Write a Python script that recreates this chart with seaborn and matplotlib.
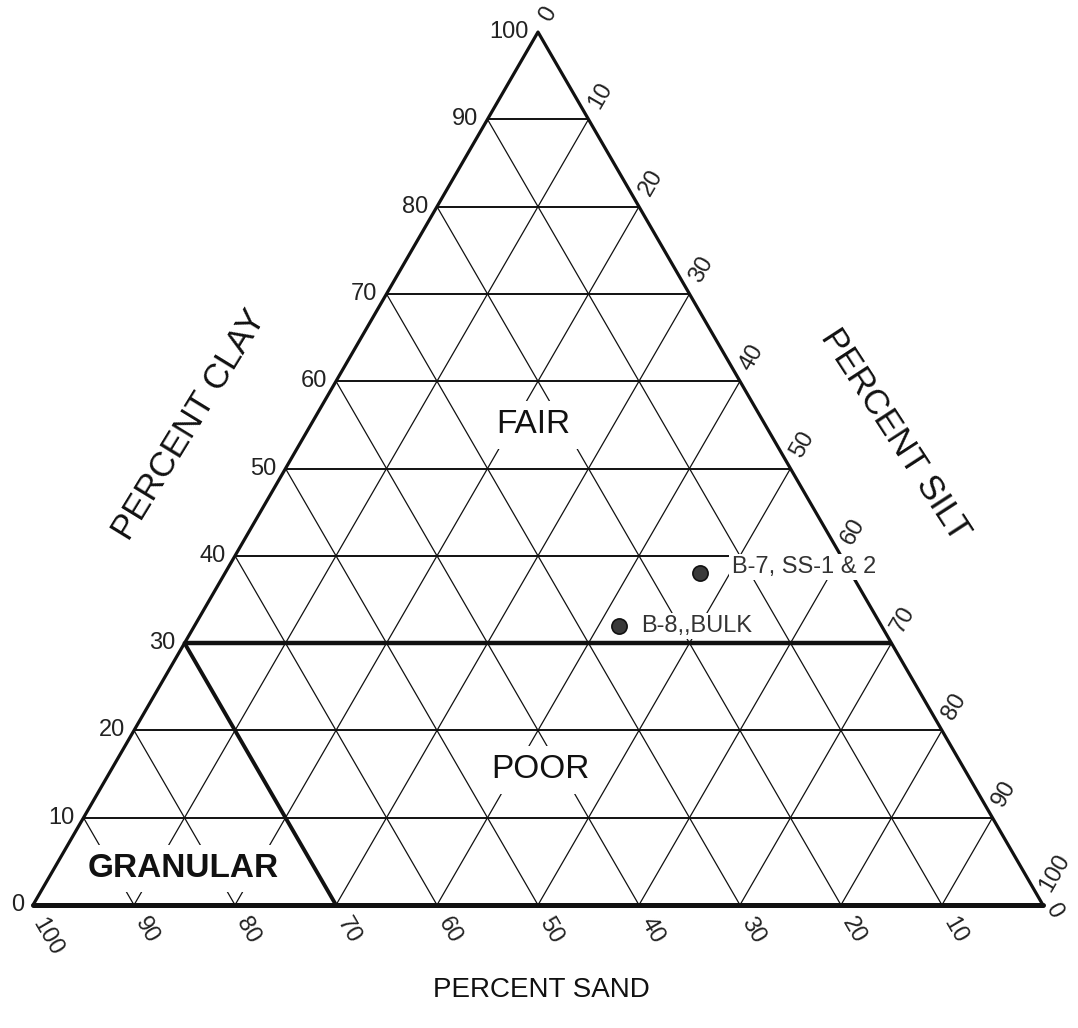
import numpy as np
import pandas as pd
import matplotlib
matplotlib.use("Agg")
import matplotlib.pyplot as plt
import seaborn as sns

# DATA
GRID_LEVELS = [10, 20, 30, 40, 50, 60, 70, 80, 90]
TICK_VALUES = [0, 10, 20, 30, 40, 50, 60, 70, 80, 90, 100]

SAMPLE_NAMES = ["B-7, SS-1 & 2", "B-8,,BULK"]
SAMPLE_SAND = [15, 26]
SAMPLE_CLAY = [38, 32]
SAMPLE_SILT = [47, 42]

ZONE_NAMES = ["FAIR", "POOR", "GRANULAR"]
ZONE_SAND = [23, 42, 83]
ZONE_CLAY = [55, 15.5, 4.2]
ZONE_SILT = [22, 42.5, 12.8]

HEAVY_CLAY = 30
HEAVY_SAND = 70

SQ3 = np.sqrt(3) / 2


def to_xy(sand, clay, silt):
    return silt + clay / 2.0, clay * SQ3


sns.set_theme(style="white")
plt.rcParams["font.family"] = ["Liberation Sans", "DejaVu Sans"]

fig = plt.figure(figsize=(10.78, 10.28), dpi=100)
ax = fig.add_axes([0, 0, 1, 1])
ax.set_xlim(-3.27, 103.47)
ax.set_ylim(-12.2, 89.78)
ax.axis("off")

ink = "#111111"

# grid lines
for lvl in GRID_LEVELS:
    # constant clay (horizontal)
    x0, y0 = to_xy(100 - lvl, lvl, 0)
    x1, y1 = to_xy(0, lvl, 100 - lvl)
    lw = 3.2 if lvl == HEAVY_CLAY else 1.4
    ax.plot([x0, x1], [y0, y1], color=ink, lw=lw, zorder=1, solid_capstyle="butt")

    # constant sand
    x0, y0 = to_xy(lvl, 0, 100 - lvl)
    x1, y1 = to_xy(lvl, 100 - lvl, 0)
    lw = 2.8 if lvl == HEAVY_SAND else 0.9
    ax.plot([x0, x1], [y0, y1], color=ink, lw=lw, zorder=1)

    # constant silt
    x0, y0 = to_xy(100 - lvl, 0, lvl)
    x1, y1 = to_xy(0, 100 - lvl, lvl)
    ax.plot([x0, x1], [y0, y1], color=ink, lw=0.9, zorder=1)

# outer triangle
A = to_xy(100, 0, 0)
B = to_xy(0, 0, 100)
C = to_xy(0, 100, 0)
ax.plot([A[0], C[0], B[0]], [A[1], C[1], B[1]], color=ink, lw=2.3, zorder=2)
ax.plot([A[0], B[0]], [A[1], B[1]], color=ink, lw=3.6, zorder=2, solid_capstyle="round")

tick_font = dict(fontsize=17, color="#222222")

# clay ticks (left edge)
for v in TICK_VALUES:
    x, y = to_xy(100 - v, v, 0)
    ax.annotate(str(v), (x, y), xytext=(-9, 0), textcoords="offset pixels",
                ha="right", va="center", **tick_font)

# silt ticks (right edge)
for v in TICK_VALUES:
    x, y = to_xy(0, 100 - v, v)
    off = (12, 32) if v == 100 else ((10, 18) if v == 0 else (12, 24))
    ax.annotate(str(v), (x, y), xytext=off, textcoords="offset pixels",
                ha="center", va="center", rotation=60, rotation_mode="anchor",
                **tick_font)

# sand ticks (bottom edge)
for v in TICK_VALUES:
    x, y = to_xy(v, 0, 100 - v)
    off = (14, -32) if v == 100 else ((11, -6) if v == 0 else (13, -25))
    ax.annotate(str(v), (x, y), xytext=off, textcoords="offset pixels",
                ha="center", va="center", rotation=-60, rotation_mode="anchor",
                **tick_font)

# axis titles
ax.text(15.5, 47.6, "PERCENT CLAY", fontsize=25, rotation=58.5, ha="center",
        va="center", rotation_mode="anchor", color=ink)
ax.text(85.3, 46.6, "PERCENT SILT", fontsize=25, rotation=-57, ha="center",
        va="center", rotation_mode="anchor", color=ink)
ax.text(50.3, -8.4, "PERCENT SAND", fontsize=20, ha="center", va="center",
        color=ink)

# zone labels
for name, s, c, t in zip(ZONE_NAMES, ZONE_SAND, ZONE_CLAY, ZONE_SILT):
    x, y = to_xy(s, c, t)
    ax.text(x, y, name, fontsize=24,
            fontweight="semibold" if name == "GRANULAR" else "normal",
            ha="center", va="center", color=ink, zorder=5,
            bbox=dict(facecolor="white", edgecolor="none", pad=6))

# samples
coords = [to_xy(s, c, t) for s, c, t in zip(SAMPLE_SAND, SAMPLE_CLAY, SAMPLE_SILT)]
df = pd.DataFrame({
    "name": SAMPLE_NAMES,
    "x": [p[0] for p in coords],
    "y": [p[1] for p in coords],
})
sns.scatterplot(data=df, x="x", y="y", s=120, color="#3a3a3a", edgecolor="#111111",
                linewidth=1.2, ax=ax, legend=False, zorder=6)

label_offsets = [(32, 6), (22, 0)]
for (_, row), off in zip(df.iterrows(), label_offsets):
    ax.annotate(row["name"], (row["x"], row["y"]), xytext=off,
                textcoords="offset pixels", ha="left", va="center",
                fontsize=17, color="#333333", zorder=6,
                bbox=dict(facecolor="white", edgecolor="none", pad=1.5))

ax.set_xlim(-3.27, 103.47)
ax.set_ylim(-12.2, 89.78)
fig.savefig("out.png", dpi=100)
